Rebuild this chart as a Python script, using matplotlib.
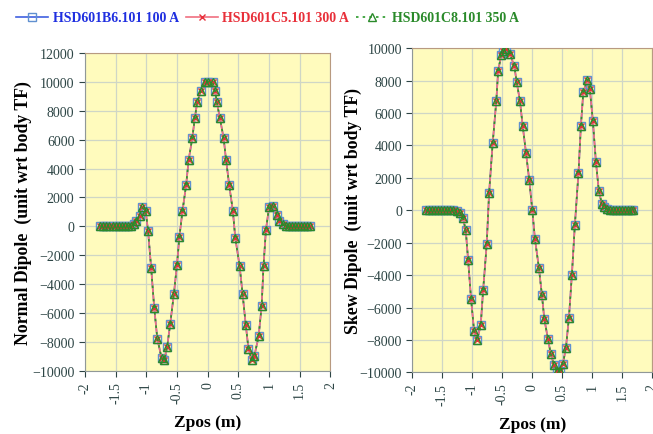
import numpy as np
import matplotlib.pyplot as plt

plt.rcParams['font.family'] = 'Liberation Serif'

# normal dipole vs z position
z_norm = [-1.75, -1.70, -1.65, -1.60, -1.55, -1.50, -1.45, -1.40, -1.35, -1.30, -1.25, -1.20,
          -1.16, -1.11, -1.075, -1.01, -0.97, -0.92, -0.87, -0.82, -0.75, -0.71, -0.66, -0.61,
          -0.55, -0.50, -0.46, -0.41, -0.35, -0.31, -0.25, -0.21, -0.17, -0.11, -0.04, 0.01,
          0.08, 0.12, 0.15, 0.20, 0.26, 0.30, 0.35, 0.41, 0.45, 0.52, 0.57, 0.62, 0.665, 0.72,
          0.76, 0.83, 0.88, 0.91, 0.95, 1.00, 1.07, 1.13, 1.17, 1.22, 1.27, 1.32, 1.37, 1.42,
          1.47, 1.52, 1.57, 1.62, 1.67]
normal = [0, 0, 0, 0, 0, 0, 0, 0, 0, 20, 60, 150,
          400, 740, 1320, 1090, -350, -2900, -5670, -7790, -9130, -9290, -8370, -6750,
          -4680, -2670, -710, 1060, 2890, 4600, 6120, 7480, 8590, 9390, 9970, 10010,
          9970, 9390, 8590, 7480, 6120, 4600, 2890, 1090, -800, -2720, -4720, -6800, -8480, -9290,
          -8990, -7630, -5490, -2720, -230, 1320, 1430, 810, 400, 170, 60, 20, 0, 0,
          0, 0, 0, 0, 0]

# skew dipole vs z position
z_skew = [-1.77, -1.72, -1.67, -1.62, -1.57, -1.52, -1.47, -1.42, -1.37, -1.32, -1.26, -1.205,
          -1.16, -1.11, -1.07, -1.02, -0.97, -0.92, -0.86, -0.82, -0.76, -0.72, -0.66, -0.60,
          -0.57, -0.52, -0.48, -0.43, -0.37, -0.30, -0.26, -0.205, -0.16, -0.105, -0.05, 0.0,
          0.045, 0.11, 0.16, 0.20, 0.26, 0.31, 0.36, 0.41, 0.46, 0.51, 0.56, 0.61, 0.66, 0.71,
          0.77, 0.81, 0.85, 0.92, 0.96, 1.01, 1.06, 1.11, 1.16, 1.195, 1.24, 1.29, 1.34, 1.39,
          1.44, 1.49, 1.54, 1.59, 1.64, 1.68]
skew = [0, 0, 0, 0, 0, 0, 0, 0, 0, 0, -50, -150,
        -460, -1190, -3060, -5500, -7460, -7990, -7110, -4950, -2110, 1080, 4150, 6740,
        8570, 9560, 9860, 9930, 9620, 8900, 7910, 6720, 5200, 3550, 1840, 0,
        -1800, -3550, -5220, -6700, -7930, -8900, -9520, -9890, -9890, -9480, -8510, -6650, -3980, -880,
        2310, 5200, 7290, 8070, 7460, 5480, 3010, 1160, 400, 200, 50, 0, 0, 0,
        0, 0, 0, 0, 0, 0]

series = ['HSD601B6.101 100 A', 'HSD601C5.101 300 A', 'HSD601C8.101 350 A']
colors = ['#1f2fe0', '#e8303a', '#2a8a2a']
line_colors = ['#4060e0', '#f07080', '#2a9a2a']
markers = ['s', 'x', '^']
styles = ['-', '-', (0, (1.5, 2.5))]

bg = '#fffbbd'
grid_c = '#cfd6c6'
tick_c = '#2d4545'

fig = plt.figure(figsize=(6.53, 4.35), dpi=100)
ax1 = fig.add_axes([0.130, 0.1455, 0.376, 0.730])
ax2 = fig.add_axes([0.6314, 0.1418, 0.3675, 0.745])

def draw(ax, z, vals, ylabel, ylim, yticks):
    ax.set_facecolor(bg)
    handles = []
    for i in range(3):
        h, = ax.plot(z, vals, linestyle=styles[i], color=line_colors[i], lw=1.2,
                     marker=markers[i], markersize=6 if i != 1 else 5,
                     markerfacecolor='none', markeredgecolor=colors[i] if i != 0 else '#6090d0',
                     markeredgewidth=1.0, zorder=3 + i)
        handles.append(h)
    ax.set_xlim(-2, 2)
    ax.set_ylim(*ylim)
    ax.set_xticks(np.arange(-2, 2.01, 0.5))
    ax.set_xticklabels(['-2', '-1.5', '-1', '-0.5', '0', '0.5', '1', '1.5', '2'],
                       rotation=90)
    ax.set_yticks(yticks)
    ax.grid(True, color=grid_c, lw=0.9)
    ax.set_axisbelow(True)
    ax.tick_params(labelsize=10, colors=tick_c, length=4, width=0.8)
    for s in ['left', 'bottom']:
        ax.spines[s].set_color('#909898')
    for s in ['top', 'right']:
        ax.spines[s].set_color('#b89a80')
    ax.set_ylabel(ylabel, fontsize=12.8, fontweight='bold')
    ax.set_xlabel('Zpos (m)', fontsize=12.5, fontweight='bold', labelpad=8)
    return handles

handles = draw(ax1, z_norm, normal, 'Normal Dipole  (unit wrt body TF)',
               (-10000, 12000), np.arange(-10000, 12001, 2000))
draw(ax2, z_skew, skew, 'Skew Dipole  (unit wrt body TF)',
     (-10000, 10000), np.arange(-10000, 10001, 2000))
ax1.yaxis.set_label_coords(-0.216, 0.5)
ax2.yaxis.set_label_coords(-0.21, 0.5)

leg = fig.legend(handles, series, loc='upper left', bbox_to_anchor=(0.006, 1.0),
                 ncol=3, frameon=False, handlelength=2.3,
                 columnspacing=0.5, handletextpad=0.3,
                 prop={'weight': 'bold', 'size': 10})
for txt, c in zip(leg.get_texts(), colors):
    txt.set_color(c)

fig.savefig('out.png', dpi=100)
